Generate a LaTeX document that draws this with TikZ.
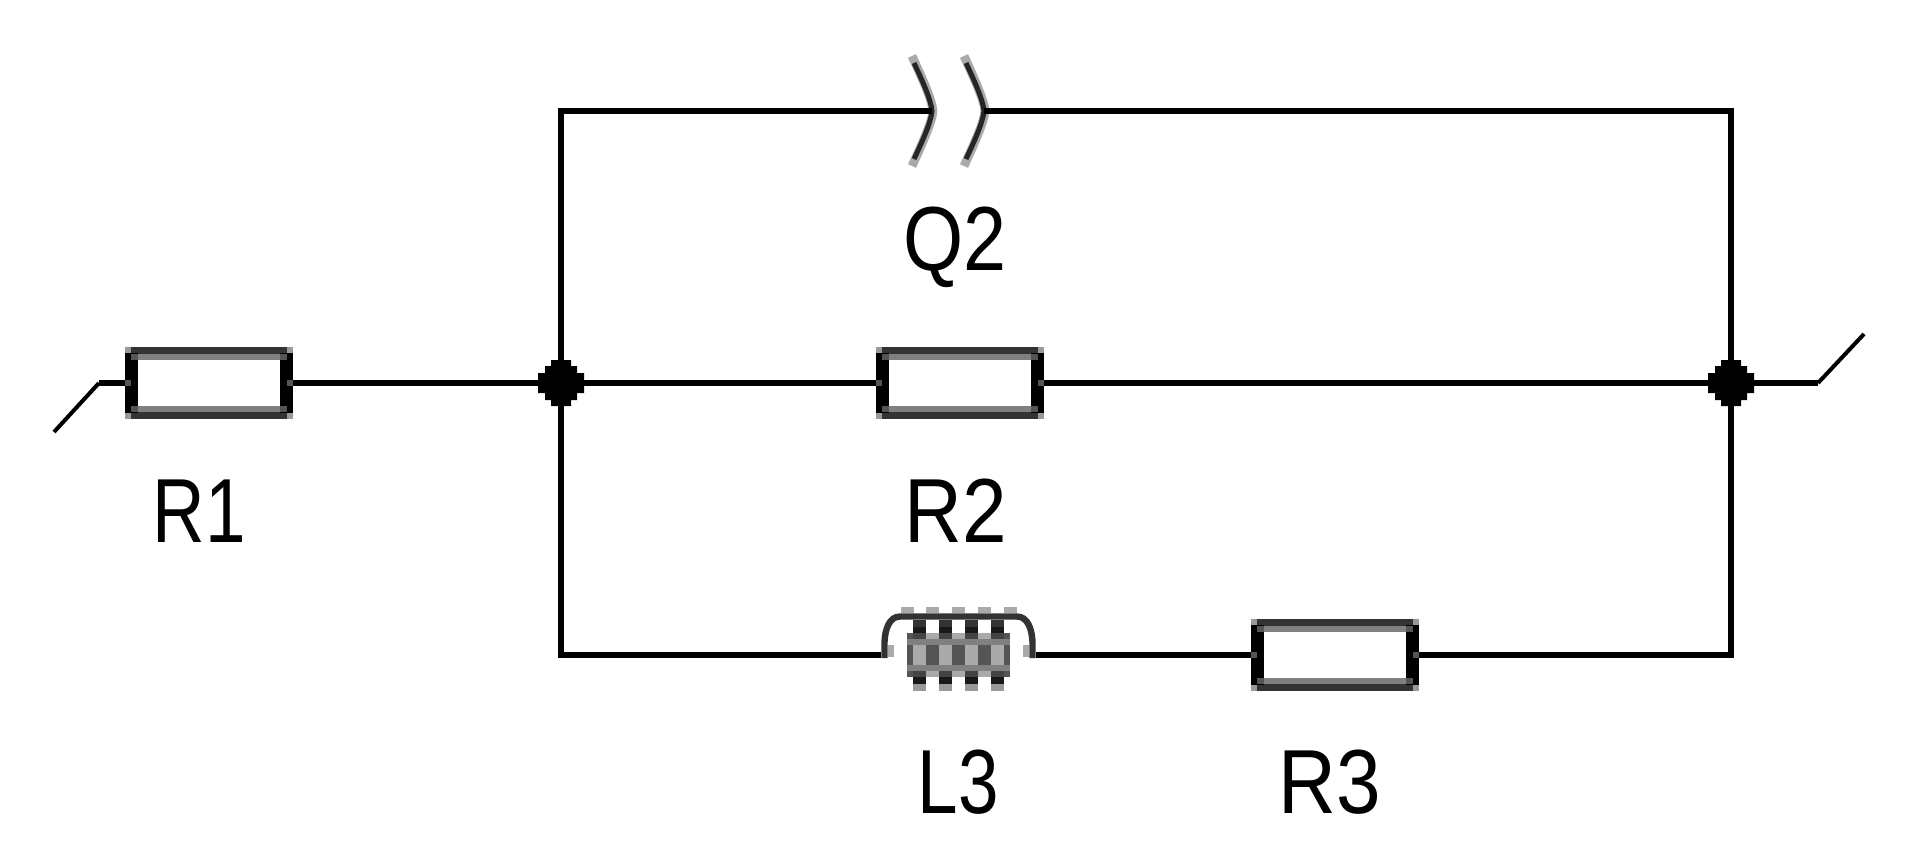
\documentclass[tikz,border=0pt]{standalone}
\usepackage{fontspec}
\setmainfont{Liberation Sans}
\usetikzlibrary{calc}
\definecolor{cA}{HTML}{333333}
\definecolor{cB}{HTML}{808080}
\definecolor{cC}{HTML}{999999}
\definecolor{cD}{HTML}{555555}
\definecolor{cE}{HTML}{AAAAAA}
\tikzset{
  wire/.style={line width=3pt,black,line cap=butt,line join=miter},
  stub/.style={line width=2pt,black},
  plate/.style={line width=2.5pt,color=black!85,line cap=butt},
  platehalo/.style={line width=4.4pt,color=cE,line cap=butt},
  holder/.style={rectangle,inner sep=0pt,outer sep=0pt},
  resbody/.style={holder,minimum width=84pt,minimum height=36pt},
  junction/.style={holder,minimum width=23pt,minimum height=23pt},
  lab/.style={anchor=base,inner sep=0pt,font=\fontsize{45.5pt}{45.5pt}\selectfont,transform shape,text=black},
}
\newcommand{\resbox}[3]{%
  \node[resbody] (#1) at (#2,#3) {};
  \begin{scope}[shift={(#2,#3)}]
    \fill[cC] (-84,-36) rectangle (84,36);
    \fill[cA] (-78,-36) rectangle (78,-29);
    \fill[cA] (-78,29) rectangle (78,36);
    \fill[black] (-84,-30) rectangle (-71,30);
    \fill[black] (71,-30) rectangle (84,30);
    \fill[cB] (-71,-29) rectangle (71,-23);
    \fill[cB] (-71,23) rectangle (71,29);
    \fill[cD] (-78,-29) rectangle (-71,-23);
    \fill[cD] (71,-29) rectangle (78,-23);
    \fill[cD] (-78,23) rectangle (-71,29);
    \fill[cD] (71,23) rectangle (78,29);
    \fill[white] (-71,-23) rectangle (71,23);
    \fill[cD] (-84,-3) rectangle (-78,3);
    \fill[cD] (78,-3) rectangle (84,3);
  \end{scope}%
}
\newcommand{\jdot}[3]{%
  \node[junction] (#1) at (#2,#3) {};
  \fill[black,shift={(#2,#3)}] (-10,-23) -- (10,-23) -- (10,-17) -- (16,-17) -- (16,-10) -- (23,-10) -- (23,10) -- (16,10) -- (16,17) -- (10,17) -- (10,23) -- (-10,23) -- (-10,17) -- (-16,17) -- (-16,10) -- (-23,10) -- (-23,-10) -- (-16,-10) -- (-16,-17) -- (-10,-17) -- cycle;%
}
\begin{document}
\begin{tikzpicture}[x=0.5pt,y=-0.5pt]
\useasboundingbox (0,0) rectangle (1916,852);
\fill[white] (0,0) rectangle (1916,852);

\resbox{R1}{209}{383}
\resbox{R2}{960}{383}
\resbox{R3}{1335}{655}

\jdot{J1}{561}{383}
\jdot{J2}{1731}{383}
\node[holder,minimum width=26pt,minimum height=53pt] (Q2) at (958,111) {};
\node[holder,minimum width=77.5pt,minimum height=42pt] (L3) at (958.5,655) {};
\coordinate (Sa) at (99,383);
\coordinate (Sb) at (54,432);
\coordinate (Ta) at (1818,383);
\coordinate (Tb) at (1864,334);

% capacitor plates
\foreach \d in {0,52}{
  \draw[platehalo,xshift=\d*0.5pt] (912,56) .. controls (923,80) and (932,100) .. (933,111) .. controls (932,122) and (923,142) .. (912,166);
  \draw[plate,xshift=\d*0.5pt] (914,63) .. controls (923,82) and (931,100) .. (932,111) .. controls (931,122) and (923,140) .. (914,159);
}

% inductor
\foreach \x in {901,926,952,978,1004}{\fill[cE] (\x,607) rectangle ++(13,6);}
\fill[cD] (907,633) rectangle (1010,677);
\foreach \x in {913,939,965,991}{
  \fill[cA] (\x,620) rectangle ++(13,7);
  \fill[black!90] (\x,627) rectangle ++(13,6);
  \fill[cD!80!black] (\x,633) rectangle ++(13,6);
  \fill[cE] (\x,645) rectangle ++(13,20);
  \fill[cD!80!black] (\x,671) rectangle ++(13,6);
  \fill[black!90] (\x,677) rectangle ++(13,7);
  \fill[cC] (\x,684) rectangle ++(13,7);
}
\foreach \x in {926,952,978}{
  \fill[cE] (\x,633) rectangle ++(13,6);
  \fill[cE] (\x,671) rectangle ++(13,6);
}
\fill[cB] (907,639) rectangle (1010,645);
\fill[cB] (907,665) rectangle (1010,671);
\fill[cE] (888,645) rectangle (894,657);
\fill[cE] (1023,645) rectangle (1029,657);
\draw[line width=3.2pt,color=cA,line cap=butt] (884.5,658) -- (884.5,642) .. controls (885,630) and (889,616.5) .. (900,616.5) -- (1017,616.5) .. controls (1028,616.5) and (1032,630) .. (1032.5,642) -- (1032.5,658);

% wires
\draw[wire] (R1.east) -- (J1.west);
\draw[wire] (J1.east) -- (R2.west);
\draw[wire] (R2.east) -- (J2.west);
\draw[wire] (J1.north) |- (Q2.west);
\draw[wire] (Q2.east) -| (J2.north);
\draw[wire] (J1.south) |- (L3.west);
\draw[wire] (L3.east) -- (R3.west);
\draw[wire] (R3.east) -| (J2.south);
\draw[wire] (R1.west) -- (Sa);
\draw[stub] (Sa) -- (Sb);
\draw[wire] (J2.east) -- (Ta);
\draw[stub] (Ta) -- (Tb);

% labels
\node[lab,xscale=0.85] (lQ2) at (955,270) {Q2};
\node[lab,xscale=0.8] (lR1) at (199,542) {R1};
\node[lab,xscale=0.88] (lR2) at (956,542) {R2};
\node[lab,xscale=0.8] (lL3) at (958,813) {L3};
\node[lab,xscale=0.88] (lR3) at (1330,813) {R3};
\end{tikzpicture}
\end{document}
